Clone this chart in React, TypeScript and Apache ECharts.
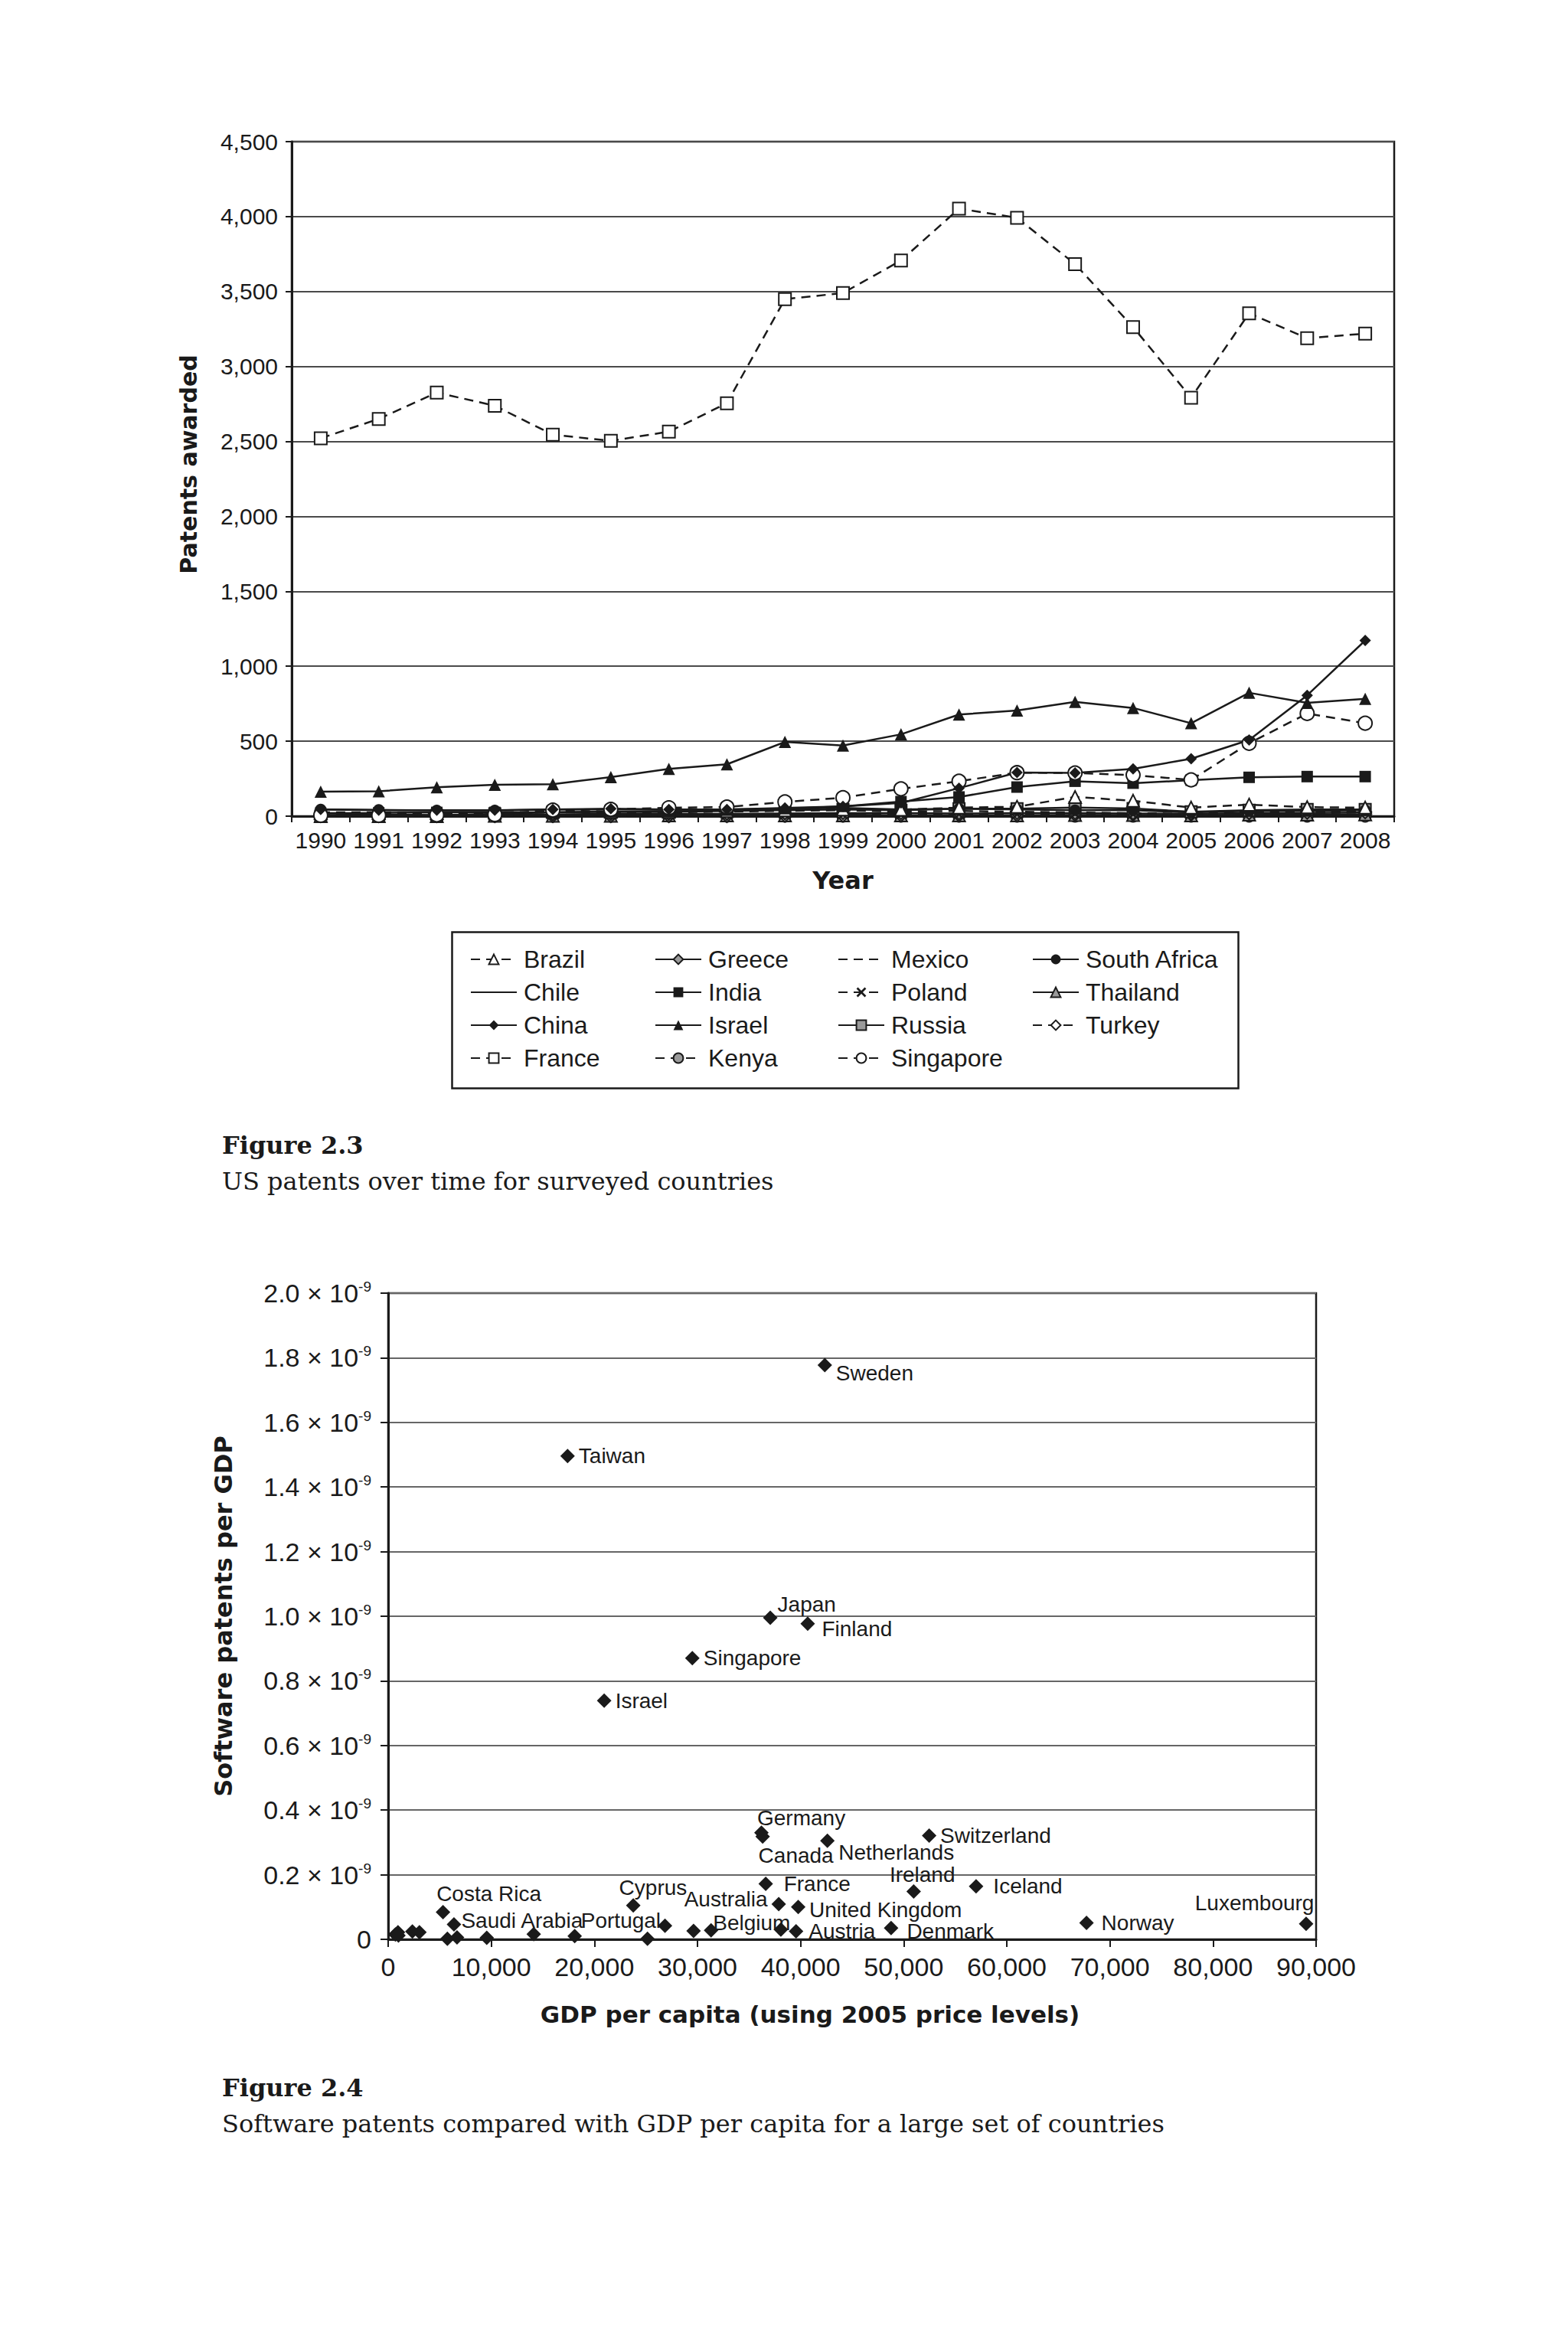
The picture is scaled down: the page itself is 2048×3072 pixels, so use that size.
import { useEffect, useRef } from "react";
import * as echarts from "echarts";

// ---- Figure 2.3 data: US patents awarded, 1990-2008 ----
const years = ["1990", "1991", "1992", "1993", "1994", "1995", "1996", "1997", "1998", "1999",
  "2000", "2001", "2002", "2003", "2004", "2005", "2006", "2007", "2008"];

const brazil = [20, 20, 20, 25, 30, 30, 30, 35, 40, 45, 43, 57, 63, 128, 103, 57, 77, 60, 57];
const chile = [5, 5, 5, 5, 5, 8, 8, 8, 10, 10, 5, 5, 5, 5, 5, 5, 8, 10, 10];
const china = [45, 40, 40, 40, 45, 50, 45, 45, 55, 65, 88, 187, 291, 288, 315, 383, 508, 806, 1172];
const france = [2521, 2650, 2826, 2738, 2545, 2504, 2565, 2755, 3449, 3490, 3707, 4053, 3992, 3683, 3263, 2792, 3355, 3189, 3219];
const greece = [8, 10, 8, 10, 12, 15, 15, 15, 18, 20, 20, 18, 20, 20, 18, 15, 20, 22, 25];
const india = [20, 22, 25, 25, 25, 30, 30, 40, 50, 65, 97, 128, 194, 233, 220, 240, 259, 264, 264];
const israel = [163, 166, 193, 210, 213, 261, 315, 346, 495, 471, 546, 678, 705, 762, 722, 620, 823, 756, 783];
const kenya = [0, 0, 0, 0, 1, 0, 0, 0, 1, 0, 0, 1, 0, 0, 0, 0, 0, 1, 0];
const mexico = [25, 25, 20, 20, 25, 25, 25, 30, 35, 40, 30, 35, 30, 25, 20, 15, 30, 30, 30];
const poland = [8, 8, 6, 6, 8, 8, 6, 8, 10, 10, 10, 12, 12, 15, 12, 10, 15, 20, 25];
const russia = [0, 0, 5, 15, 25, 30, 30, 35, 40, 45, 40, 50, 50, 57, 51, 30, 40, 45, 45];
const singapore = [5, 5, 8, 10, 40, 45, 56, 61, 95, 123, 182, 233, 290, 288, 274, 242, 486, 685, 620];
const southAfrica = [45, 42, 38, 38, 45, 45, 42, 45, 50, 55, 45, 50, 45, 40, 40, 25, 35, 35, 40];
const thailand = [0, 0, 0, 2, 3, 3, 5, 5, 5, 5, 5, 5, 5, 8, 8, 5, 10, 10, 12];
const turkey = [0, 0, 0, 0, 0, 0, 0, 0, 2, 3, 5, 5, 5, 8, 10, 10, 20, 25, 30];

const legendColumns = [
  ["Brazil", "Chile", "China", "France"],
  ["Greece", "India", "Israel", "Kenya"],
  ["Mexico", "Poland", "Russia", "Singapore"],
  ["South Africa", "Thailand", "Turkey"],
];

// ---- Figure 2.4 data: software patents per GDP (x 10^-9) vs GDP per capita ----
const countries = ["Sweden", "Taiwan", "Japan", "Finland", "Singapore", "Israel", "Germany", "Canada",
  "Netherlands", "Switzerland", "France", "Ireland", "Iceland", "Cyprus", "Costa Rica", "Saudi Arabia",
  "Portugal", "Australia", "Belgium", "United Kingdom", "Austria", "Denmark", "Norway", "Luxembourg",
  "", "", "", "", "", "", "", "", "", "", "", "", ""];
const gdpPerCapita = [42350, 17400, 37060, 40690, 29500, 20950, 36200, 36320,
  42600, 52470, 36620, 50970, 57020, 23770, 5320, 6380,
  26850, 37880, 38090, 39770, 39560, 48780, 67730, 89030,
  700, 950, 2350, 3030, 5740, 6680, 9560, 14120, 18090, 25150, 29620, 31320, 1000];
const patentsPerGdp = [1.777, 1.496, 0.995, 0.977, 0.870, 0.739, 0.330, 0.318,
  0.305, 0.321, 0.172, 0.148, 0.164, 0.105, 0.084, 0.046,
  0.042, 0.109, 0.030, 0.100, 0.025, 0.035, 0.051, 0.048,
  0.015, 0.022, 0.024, 0.022, 0.002, 0.006, 0.005, 0.016, 0.010, 0.002, 0.026, 0.028, 0.012];

const FONT = "'Liberation Sans', Arial, Helvetica, sans-serif";
const HEAVY = "'DejaVu Sans', 'Liberation Sans', sans-serif";
const SERIF = "'DejaVu Serif', 'Liberation Serif', serif";
const INK = "#1a1a1a";

type Look = { dashed: boolean; symbol: string; fill?: string; size?: number };
const X_PATH = "path://M0,1.5L1.5,0L5,3.5L8.5,0L10,1.5L6.5,5L10,8.5L8.5,10L5,6.5L1.5,10L0,8.5L3.5,5Z";
const looks: Record<string, Look> = {
  Brazil: { dashed: true, symbol: "emptyTriangle", size: 16 },
  Chile: { dashed: false, symbol: "none" },
  China: { dashed: false, symbol: "diamond", fill: INK, size: 15 },
  France: { dashed: true, symbol: "emptyRect", size: 16 },
  Greece: { dashed: false, symbol: "diamond", fill: "#9a9a9a", size: 16 },
  India: { dashed: false, symbol: "rect", fill: INK, size: 15 },
  Israel: { dashed: false, symbol: "triangle", fill: INK, size: 16 },
  Kenya: { dashed: true, symbol: "circle", fill: "#9a9a9a", size: 15 },
  Mexico: { dashed: true, symbol: "none" },
  Poland: { dashed: true, symbol: X_PATH, fill: INK, size: 11 },
  Russia: { dashed: false, symbol: "rect", fill: "#9a9a9a", size: 15 },
  Singapore: { dashed: true, symbol: "emptyCircle", size: 18 },
  "South Africa": { dashed: false, symbol: "circle", fill: INK, size: 15 },
  Thailand: { dashed: false, symbol: "triangle", fill: "#9a9a9a", size: 16 },
  Turkey: { dashed: true, symbol: "emptyDiamond", size: 16 },
};

const seriesValues: [string, number[]][] = [
  ["Kenya", kenya], ["Chile", chile], ["Thailand", thailand], ["Turkey", turkey], ["Greece", greece],
  ["Poland", poland], ["Mexico", mexico], ["Russia", russia], ["South Africa", southAfrica],
  ["Brazil", brazil], ["India", india], ["Singapore", singapore], ["China", china],
  ["Israel", israel], ["France", france],
];

// label placement around each scatter point: [side, dx, dy]
const labelAt: Record<string, [string, number, number]> = {
  Sweden: ["right", 0, 10], Japan: ["right", -5, -18], Finland: ["right", 4, 7],
  Germany: ["right", -20, -19], Canada: ["right", -20, 25], Netherlands: ["right", 0, 15],
  France: ["right", 9, 0], Ireland: ["right", -46, -22], Iceland: ["right", 8, 0],
  Cyprus: ["right", -33, -23], "Costa Rica": ["right", -23, -24], "Saudi Arabia": ["right", -5, -5],
  Portugal: ["left", 9, -7], Australia: ["left", 0, -7], Belgium: ["left", 27, -9],
  "United Kingdom": ["right", 0, 4], Austria: ["right", 2, 0], Denmark: ["right", 6, 4],
  Norway: ["right", 5, 0], Luxembourg: ["left", 25, -27],
};

const fmtThousands = (v: number) => v.toLocaleString("en-US");

export default function App() {
  const ref = useRef<HTMLDivElement>(null);

  useEffect(() => {
    document.body.style.margin = "0";
    if (!ref.current) return;
    const chart = echarts.init(ref.current, null, { renderer: "svg" });

    const lineSeries = seriesValues.map(([name, values]) => {
      const lk = looks[name];
      return {
        name, type: "line", xAxisIndex: 0, yAxisIndex: 0, data: values,
        symbol: lk.symbol, symbolSize: lk.size ?? 0, showAllSymbol: true,
        lineStyle: { color: INK, width: 2.5, type: lk.dashed ? [12, 8] : "solid" },
        itemStyle: lk.symbol.startsWith("empty")
          ? { color: INK, borderWidth: 2.5 }
          : { color: lk.fill ?? INK, borderColor: INK, borderWidth: lk.fill && lk.fill !== INK ? 2 : 0 },
      };
    });

    const legends = legendColumns.map((col, i) => ({
      orient: "vertical", left: [614, 855, 1094, 1348][i], top: 1237, padding: 0,
      itemWidth: 60, itemHeight: 16, itemGap: 11, selectedMode: false,
      textStyle: { fontFamily: FONT, fontSize: 32, color: INK, lineHeight: 32, padding: [0, 0, 0, 4] },
      data: col.map((n) => (looks[n].symbol === "none" ? { name: n, itemStyle: { opacity: 0 } } : n)),
    }));

    const scatterData = countries.map((n, i) => {
      const lp = labelAt[n] ?? ["right", 0, 0];
      return {
        name: n, value: [gdpPerCapita[i], patentsPerGdp[i]],
        label: { position: lp[0], offset: [lp[1], lp[2]] },
      };
    });

    const axisName = { fontFamily: HEAVY, fontWeight: "bold", fontSize: 31, color: INK };
    const capTitle = { fontFamily: SERIF, fontWeight: "bold", fontSize: 32, color: INK };
    const capText = { fontFamily: SERIF, fontWeight: "normal", fontSize: 32, color: INK };

    chart.setOption({
      animation: false,
      backgroundColor: "#ffffff",
      textStyle: { fontFamily: FONT },
      title: [
        { text: "Figure 2.3", left: 290, top: 1480, padding: 0, textStyle: capTitle },
        { text: "US patents over time for surveyed countries", left: 290, top: 1527, padding: 0, textStyle: capText },
        { text: "Figure 2.4", left: 290, top: 2711, padding: 0, textStyle: capTitle },
        { text: "Software patents compared with GDP per capita for a large set of countries", left: 290, top: 2758, padding: 0, textStyle: capText },
      ],
      legend: legends,
      graphic: [
        { type: "rect", left: 588, top: 1215, shape: { width: 1027, height: 204 }, style: { fill: "none", stroke: INK, lineWidth: 2.5 } },
      ],
      grid: [
        { left: 381, top: 185, width: 1440, height: 881, show: true, borderColor: INK, borderWidth: 2.5, backgroundColor: "transparent" },
        { left: 507, top: 1689, width: 1212, height: 844, show: true, borderColor: INK, borderWidth: 2.5, backgroundColor: "transparent" },
      ],
      xAxis: [
        {
          gridIndex: 0, type: "category", data: years, boundaryGap: true,
          name: "Year", nameLocation: "middle", nameGap: 68, nameTextStyle: { ...axisName, fontSize: 32 },
          axisLine: { lineStyle: { color: INK, width: 3 } },
          axisTick: { show: true, length: 8, interval: 0, lineStyle: { color: INK, width: 2 } },
          axisLabel: { interval: 0, fontSize: 30, color: INK, margin: 16 },
          splitLine: { show: false },
        },
        {
          gridIndex: 1, type: "value", min: 0, max: 90000, interval: 10000,
          name: "GDP per capita (using 2005 price levels)", nameLocation: "middle", nameGap: 82,
          nameTextStyle: { ...axisName, padding: [0, 110, 0, 0] },
          axisLine: { onZero: false, lineStyle: { color: INK, width: 3 } },
          axisTick: { show: true, length: 10, lineStyle: { color: INK, width: 2 } },
          axisLabel: { fontSize: 34, color: INK, margin: 19, formatter: fmtThousands },
          splitLine: { show: false },
        },
      ],
      yAxis: [
        {
          gridIndex: 0, type: "value", min: 0, max: 4500, interval: 500,
          name: "Patents awarded", nameLocation: "middle", nameGap: 120,
          nameTextStyle: { ...axisName, fontSize: 30, padding: [0, 0, 0, 38] },
          axisLine: { show: true, lineStyle: { color: INK, width: 3 } },
          axisTick: { show: true, length: 8, lineStyle: { color: INK, width: 2 } },
          axisLabel: { fontSize: 30, color: INK, margin: 18, formatter: fmtThousands },
          splitLine: { lineStyle: { color: "#4a4a4a", width: 2 } },
        },
        {
          gridIndex: 1, type: "value", min: 0, max: 2, interval: 0.2,
          name: "Software patents per GDP", nameLocation: "middle", nameGap: 199,
          nameTextStyle: { ...axisName, fontSize: 32 },
          axisLine: { show: true, onZero: false, lineStyle: { color: INK, width: 3 } },
          axisTick: { show: true, length: 10, lineStyle: { color: INK, width: 2 } },
          axisLabel: {
            margin: 22, color: INK,
            formatter: (v: number) => (v === 0 ? "{m|0}" : `{m|${v.toFixed(1)} × 10}{s|-9}`),
            rich: {
              m: { fontFamily: FONT, fontSize: 34, color: INK },
              s: { fontFamily: FONT, fontSize: 19, color: INK, padding: [0, 0, 17, 0] },
            },
          },
          splitLine: { lineStyle: { color: "#666", width: 2 } },
        },
      ],
      series: [
        ...lineSeries,
        {
          name: "countries", type: "scatter", xAxisIndex: 1, yAxisIndex: 1,
          symbol: "diamond", symbolSize: 19, itemStyle: { color: INK, opacity: 1 },
          label: { show: true, formatter: "{b}", fontFamily: FONT, fontSize: 28, color: INK, distance: 5 },
          data: scatterData,
        },
      ],
    });

    return () => chart.dispose();
  }, []);

  return <div ref={ref} style={{ width: 2048, height: 3072, background: "#fff" }} />;
}
